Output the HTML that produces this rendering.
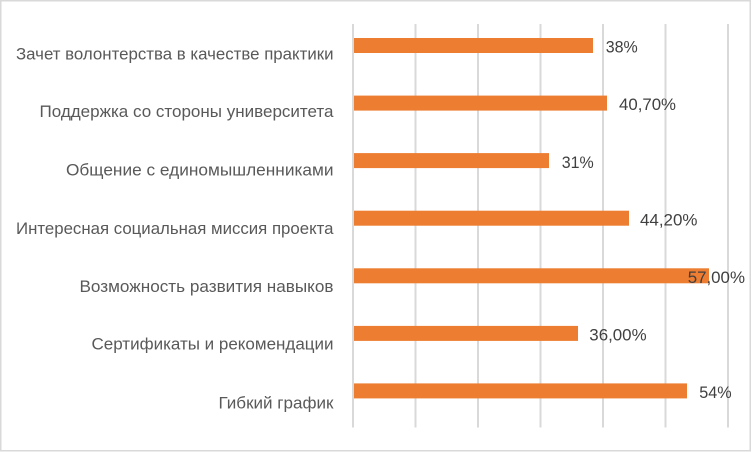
<!DOCTYPE html>
<html>
<head>
<meta charset="utf-8">
<style>
html,body{margin:0;padding:0;background:#fff;}
svg{display:block;}
text{font-family:"Liberation Sans","DejaVu Sans",sans-serif;}
</style>
</head>
<body>
<svg width="752" height="452" viewBox="0 0 752 452" xmlns="http://www.w3.org/2000/svg">
<rect x="0" y="0" width="752" height="452" fill="#ffffff"/>
<rect x="0.75" y="0.75" width="749.5" height="450" fill="none" stroke="#d9d9d9" stroke-width="1.5"/>
<g stroke="#d9d9d9" stroke-width="2">
<line x1="353" y1="24" x2="353" y2="427.5"/>
<line x1="415.5" y1="24" x2="415.5" y2="427.5"/>
<line x1="478" y1="24" x2="478" y2="427.5"/>
<line x1="540.5" y1="24" x2="540.5" y2="427.5"/>
<line x1="603" y1="24" x2="603" y2="427.5"/>
<line x1="665.5" y1="24" x2="665.5" y2="427.5"/>
<line x1="728" y1="24" x2="728" y2="427.5"/>
</g>
<g fill="#ED7D31">
<rect x="354" y="38" width="239" height="15"/>
<rect x="354" y="95.6" width="253" height="15"/>
<rect x="354" y="153.1" width="195" height="15"/>
<rect x="354" y="210.7" width="275" height="15"/>
<rect x="354" y="268.3" width="355" height="15"/>
<rect x="354" y="325.9" width="224" height="15"/>
<rect x="354" y="383.4" width="333" height="15"/>
</g>
<g fill="#595959" font-size="17" text-anchor="end">
<text x="333.5" y="59.3" textLength="317.5" lengthAdjust="spacingAndGlyphs">Зачет волонтерства в качестве практики</text>
<text x="333.5" y="116.8" textLength="294" lengthAdjust="spacingAndGlyphs">Поддержка со стороны университета</text>
<text x="333.5" y="175.3" textLength="267.5" lengthAdjust="spacingAndGlyphs">Общение с единомышленниками</text>
<text x="333.5" y="233.8" textLength="317.5" lengthAdjust="spacingAndGlyphs">Интересная социальная миссия проекта</text>
<text x="333.5" y="291.8" textLength="254" lengthAdjust="spacingAndGlyphs">Возможность развития навыков</text>
<text x="333.5" y="349.3" textLength="242" lengthAdjust="spacingAndGlyphs">Сертификаты и рекомендации</text>
<text x="333.5" y="408.3" textLength="115" lengthAdjust="spacingAndGlyphs">Гибкий график</text>
</g>
<g fill="#404040" font-size="17">
<text x="605.7" y="52.7" textLength="32" lengthAdjust="spacingAndGlyphs">38%</text>
<text x="619" y="110.2" textLength="57" lengthAdjust="spacingAndGlyphs">40,70%</text>
<text x="561.7" y="167.8" textLength="32" lengthAdjust="spacingAndGlyphs">31%</text>
<text x="640" y="225.4" textLength="57.5" lengthAdjust="spacingAndGlyphs">44,20%</text>
<text x="687.7" y="283" textLength="57.3" lengthAdjust="spacingAndGlyphs">57,00%</text>
<text x="589.3" y="340.6" textLength="57.3" lengthAdjust="spacingAndGlyphs">36,00%</text>
<text x="699.3" y="398.1" textLength="32.4" lengthAdjust="spacingAndGlyphs">54%</text>
</g>
</svg>
</body>
</html>
